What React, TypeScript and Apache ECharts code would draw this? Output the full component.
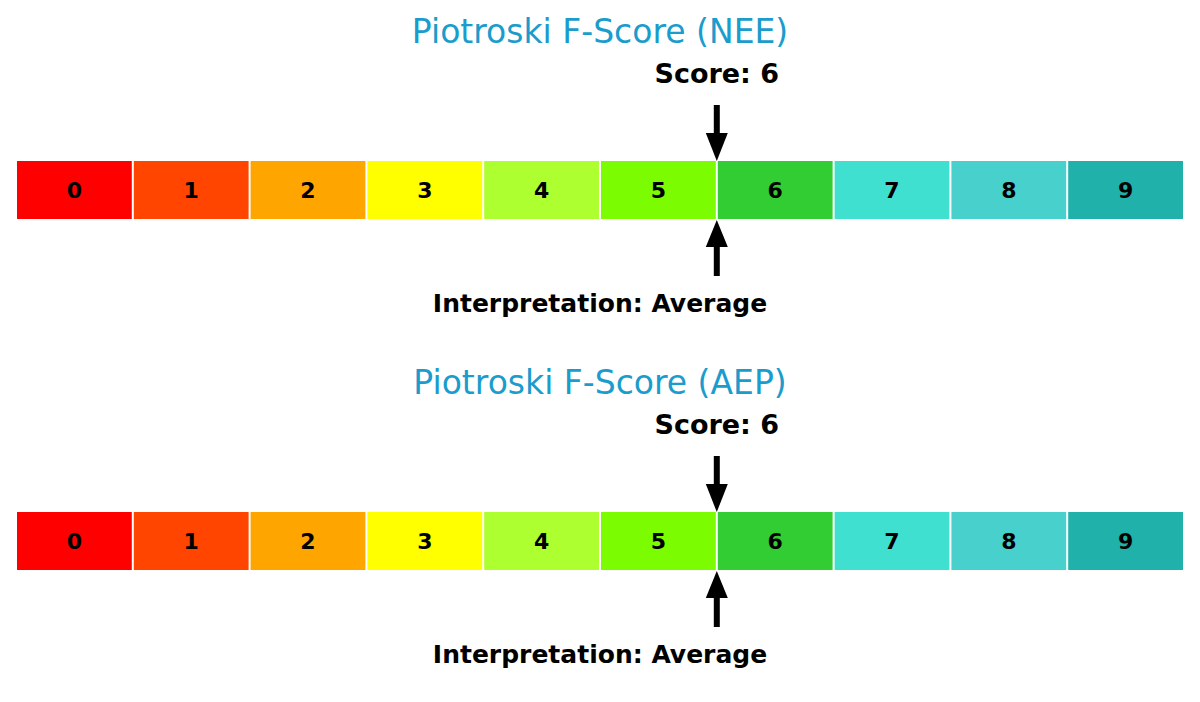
import { useEffect, useRef } from 'react'
import * as echarts from 'echarts'

const SEGMENTS = [0, 1, 2, 3, 4, 5, 6, 7, 8, 9]
const SEGMENT_COLORS = [
  '#ff0000', '#ff4500', '#ffa500', '#ffff00', '#adff2f',
  '#7cfc00', '#32cd32', '#40e0d0', '#48d1cc', '#20b2aa',
]
const TICKERS = ['NEE', 'AEP']
const SCORES = [6, 6]
const INTERPRETATIONS = ['Average', 'Average']

const FONT = '"DejaVu Sans", sans-serif'
const BAR_TOPS = [161, 512]
const BAR_H = 58

export default function App() {
  const elRef = useRef<HTMLDivElement>(null)

  useEffect(() => {
    document.body.style.margin = '0'
    if (!elRef.current) return
    const chart = echarts.init(elRef.current, null, { renderer: 'svg' })

    const grids = BAR_TOPS.map((top) => ({ left: 16, right: 16, top, height: BAR_H }))
    const xAxes = BAR_TOPS.map((_, i) => ({ type: 'value', gridIndex: i, min: 0, max: 10, show: false }))
    const yAxes = BAR_TOPS.map((_, i) => ({ type: 'value', gridIndex: i, min: 0, max: 1, show: false }))

    const series: any[] = []
    TICKERS.forEach((_, k) => {
      // 0-9 色块
      series.push({
        type: 'custom',
        xAxisIndex: k,
        yAxisIndex: k,
        clip: false,
        data: SEGMENTS.map((s) => [s, 0]),
        renderItem: (params: any, api: any) => {
          const i = api.value(0)
          const p0 = api.coord([i, 1])
          const p1 = api.coord([i + 1, 0])
          return {
            type: 'group',
            children: [
              {
                type: 'rect',
                shape: { x: p0[0] + 1, y: p0[1], width: p1[0] - p0[0] - 2, height: p1[1] - p0[1] },
                style: { fill: SEGMENT_COLORS[i] },
              },
              {
                type: 'text',
                style: {
                  text: String(SEGMENTS[i]),
                  x: (p0[0] + p1[0]) / 2,
                  y: (p0[1] + p1[1]) / 2,
                  align: 'center',
                  verticalAlign: 'middle',
                  font: `bold 22px ${FONT}`,
                  fill: '#000',
                },
              },
            ],
          }
        },
      })
      // 分数箭头与标签
      series.push({
        type: 'custom',
        xAxisIndex: k,
        yAxisIndex: k,
        clip: false,
        data: [[SCORES[k], 0]],
        renderItem: (params: any, api: any) => {
          const s = api.value(0)
          const top = api.coord([s, 1])
          const bot = api.coord([s, 0])
          const x = top[0]
          const t = top[1]
          const b = bot[1]
          return {
            type: 'group',
            children: [
              { type: 'rect', shape: { x: x - 3, y: t - 56, width: 6, height: 30 }, style: { fill: '#000' } },
              { type: 'polygon', shape: { points: [[x - 11, t - 28], [x + 11, t - 28], [x, t]] }, style: { fill: '#000' } },
              { type: 'polygon', shape: { points: [[x, b + 1], [x - 11, b + 28], [x + 11, b + 28]] }, style: { fill: '#000' } },
              { type: 'rect', shape: { x: x - 3, y: b + 26, width: 6, height: 31 }, style: { fill: '#000' } },
              {
                type: 'text',
                style: {
                  text: `Score: ${SCORES[k]}`,
                  x,
                  y: t - 88,
                  align: 'center',
                  verticalAlign: 'middle',
                  font: `bold 27px ${FONT}`,
                  fill: '#000',
                },
              },
            ],
          }
        },
      })
    })

    const graphic: any[] = []
    TICKERS.forEach((ticker, k) => {
      graphic.push({
        type: 'text',
        x: 600,
        y: BAR_TOPS[k] - 130,
        style: {
          text: `Piotroski F-Score (${ticker})`,
          align: 'center',
          verticalAlign: 'middle',
          font: `33px ${FONT}`,
          fill: '#1a9ccc',
        },
      })
      graphic.push({
        type: 'text',
        x: 600,
        y: BAR_TOPS[k] + BAR_H + 84,
        style: {
          text: `Interpretation: ${INTERPRETATIONS[k]}`,
          align: 'center',
          verticalAlign: 'middle',
          font: `bold 25px ${FONT}`,
          fill: '#000',
        },
      })
    })

    chart.setOption({
      animation: false,
      backgroundColor: '#ffffff',
      grid: grids,
      xAxis: xAxes,
      yAxis: yAxes,
      graphic,
      series,
    })

    const onResize = () => chart.resize()
    window.addEventListener('resize', onResize)
    return () => {
      window.removeEventListener('resize', onResize)
      chart.dispose()
    }
  }, [])

  return <div ref={elRef} style={{ width: 1200, height: 702 }} />
}
